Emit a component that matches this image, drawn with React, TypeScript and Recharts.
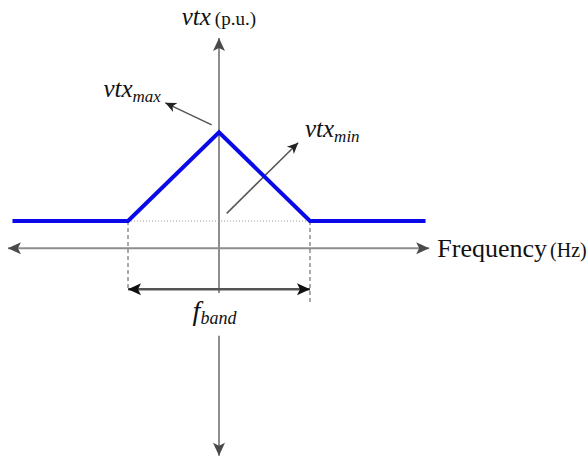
import React from 'react';
import { LineChart, Line, XAxis, YAxis, ReferenceLine, ReferenceDot } from 'recharts';

// blue characteristic: vtx vs frequency (p.u. / normalised to half band)
const freq = [-2.27, -1, 0, 1, 2.27];
const vtx = [1, 1, 4.25, 1, 1];

const vtxMin = 1;
const vtxMax = 4.25;
const bandHalf = 1;

// axis extents
const xAxisEnds = [-2.32, 2.31];
const yAxisTop = [7.7, -1.64];
const yAxisBottom = [-3.2, -7.6];
const bandArrowY = -1.5;
const dashEnds = [-1.55, -2.05];

const data = freq.map((f, i) => ({ f, vtx: vtx[i] }));

const AXIS = '#8e8e8e';
const HEAD = '#4a4a4a';
const SERIF = 'Liberation Serif';

function head(x1: number, y1: number, x2: number, y2: number, color: string, len = 11, w = 5) {
    const dx = x2 - x1;
    const dy = y2 - y1;
    const d = Math.sqrt(dx * dx + dy * dy) || 1;
    const ux = dx / d;
    const uy = dy / d;
    const bx = x2 - ux * len;
    const by = y2 - uy * len;
    const pts = [
        [x2, y2],
        [bx - uy * w, by + ux * w],
        [bx + ux * 3, by + uy * 3],
        [bx + uy * w, by - ux * w],
    ];
    return <polygon points={pts.map((p) => p.join(',')).join(' ')} fill={color} />;
}

const arrowShape = (opts: { color: string; width: number; start?: boolean; end?: boolean; headColor?: string; len?: number; w?: number }) =>
    (p: any) => {
        const { x1, y1, x2, y2 } = p;
        const hc = opts.headColor || opts.color;
        return (
            <g>
                <line x1={x1} y1={y1} x2={x2} y2={y2} stroke={opts.color} strokeWidth={opts.width} />
                {opts.end && head(x1, y1, x2, y2, hc, opts.len, opts.w)}
                {opts.start && head(x2, y2, x1, y1, hc, opts.len, opts.w)}
            </g>
        );
    };

const textShape = (render: (x: number, y: number) => React.ReactElement) => (p: any) => render(p.cx, p.cy);

export default function App() {
    return (
        <div style={{ position: 'absolute', left: 0, top: 0, background: '#fff' }}>
            <LineChart width={588} height={461} data={data} margin={{ top: 10, right: 150, bottom: 0, left: 0 }}>
                <XAxis type="number" dataKey="f" domain={[-2.407, 2.407]} hide />
                <YAxis type="number" domain={[-7.79, 8.73]} hide />

                {/* horizontal axis */}
                <ReferenceLine
                    segment={[{ x: xAxisEnds[0], y: 0 }, { x: xAxisEnds[1], y: 0 }]}
                    shape={arrowShape({ color: AXIS, width: 2, start: true, end: true, headColor: HEAD, len: 13, w: 6 })}
                />
                {/* vertical axis, broken around f_band label */}
                <ReferenceLine
                    segment={[{ x: 0, y: yAxisTop[1] }, { x: 0, y: yAxisTop[0] }]}
                    shape={arrowShape({ color: AXIS, width: 2, end: true, headColor: HEAD, len: 13, w: 6 })}
                />
                <ReferenceLine
                    segment={[{ x: 0, y: yAxisBottom[0] }, { x: 0, y: yAxisBottom[1] }]}
                    shape={arrowShape({ color: AXIS, width: 2, end: true, headColor: HEAD, len: 13, w: 6 })}
                />

                {/* dotted base level and dashed band edges */}
                <ReferenceLine
                    segment={[{ x: -bandHalf, y: vtxMin }, { x: bandHalf, y: vtxMin }]}
                    stroke="#9a9a9a"
                    strokeWidth={1}
                    strokeDasharray="1 2"
                />
                <ReferenceLine
                    segment={[{ x: -bandHalf, y: vtxMin }, { x: -bandHalf, y: dashEnds[0] }]}
                    stroke="#555"
                    strokeWidth={1}
                    strokeDasharray="4 3"
                />
                <ReferenceLine
                    segment={[{ x: bandHalf, y: vtxMin }, { x: bandHalf, y: dashEnds[1] }]}
                    stroke="#555"
                    strokeWidth={1}
                    strokeDasharray="4 3"
                />

                {/* f_band double arrow */}
                <ReferenceLine
                    segment={[{ x: -bandHalf, y: bandArrowY }, { x: bandHalf, y: bandArrowY }]}
                    shape={arrowShape({ color: '#555', width: 2.5, start: true, end: true, headColor: '#111', len: 13, w: 6 })}
                />

                {/* annotation arrows */}
                <ReferenceLine
                    segment={[{ x: -0.08, y: 4.52 }, { x: -0.59, y: 5.33 }]}
                    shape={arrowShape({ color: '#555', width: 1.5, end: true, headColor: '#222', len: 11, w: 5 })}
                />
                <ReferenceLine
                    segment={[{ x: 0.085, y: 1.28 }, { x: 0.87, y: 3.87 }]}
                    shape={arrowShape({ color: '#555', width: 1.5, end: true, headColor: '#222', len: 11, w: 5 })}
                />

                <Line
                    type="linear"
                    dataKey="vtx"
                    stroke="#0a0ae8"
                    strokeWidth={4}
                    dot={false}
                    activeDot={false}
                    isAnimationActive={false}
                />

                {/* labels */}
                <ReferenceDot
                    x={-0.41}
                    y={8.18}
                    r={0}
                    ifOverflow="visible"
                    shape={textShape((x, y) => (
                        <text x={x} y={y} fill="#111">
                            <tspan fontFamily={SERIF} fontStyle="italic" fontSize={25}>vtx</tspan>
                            <tspan fontFamily={SERIF} fontSize={19} dx={4}>(p.u.)</tspan>
                        </text>
                    ))}
                />
                <ReferenceDot
                    x={-1.27}
                    y={5.54}
                    r={0}
                    ifOverflow="visible"
                    shape={textShape((x, y) => (
                        <text x={x} y={y} fill="#111">
                            <tspan fontFamily={SERIF} fontStyle="italic" fontSize={25}>vtx</tspan>
                            <tspan fontFamily={SERIF} fontStyle="italic" fontSize={17} dy={5}>max</tspan>
                        </text>
                    ))}
                />
                <ReferenceDot
                    x={0.945}
                    y={4.08}
                    r={0}
                    ifOverflow="visible"
                    shape={textShape((x, y) => (
                        <text x={x} y={y} fill="#111">
                            <tspan fontFamily={SERIF} fontStyle="italic" fontSize={25}>vtx</tspan>
                            <tspan fontFamily={SERIF} fontStyle="italic" fontSize={17} dy={5}>min</tspan>
                        </text>
                    ))}
                />
                <ReferenceDot
                    x={-0.29}
                    y={-2.62}
                    r={0}
                    ifOverflow="visible"
                    shape={textShape((x, y) => (
                        <text x={x} y={y} fill="#111">
                            <tspan fontFamily={SERIF} fontStyle="italic" fontSize={28}>f</tspan>
                            <tspan fontFamily={SERIF} fontStyle="italic" fontSize={18} dy={4}>band</tspan>
                        </text>
                    ))}
                />
                <ReferenceDot
                    x={2.4}
                    y={-0.33}
                    r={0}
                    ifOverflow="visible"
                    shape={textShape((x, y) => (
                        <text x={x} y={y} fill="#111">
                            <tspan fontFamily={SERIF} fontSize={26}>Frequency</tspan>
                            <tspan fontFamily={SERIF} fontSize={20} dx={3}>(Hz)</tspan>
                        </text>
                    ))}
                />
            </LineChart>
        </div>
    );
}
